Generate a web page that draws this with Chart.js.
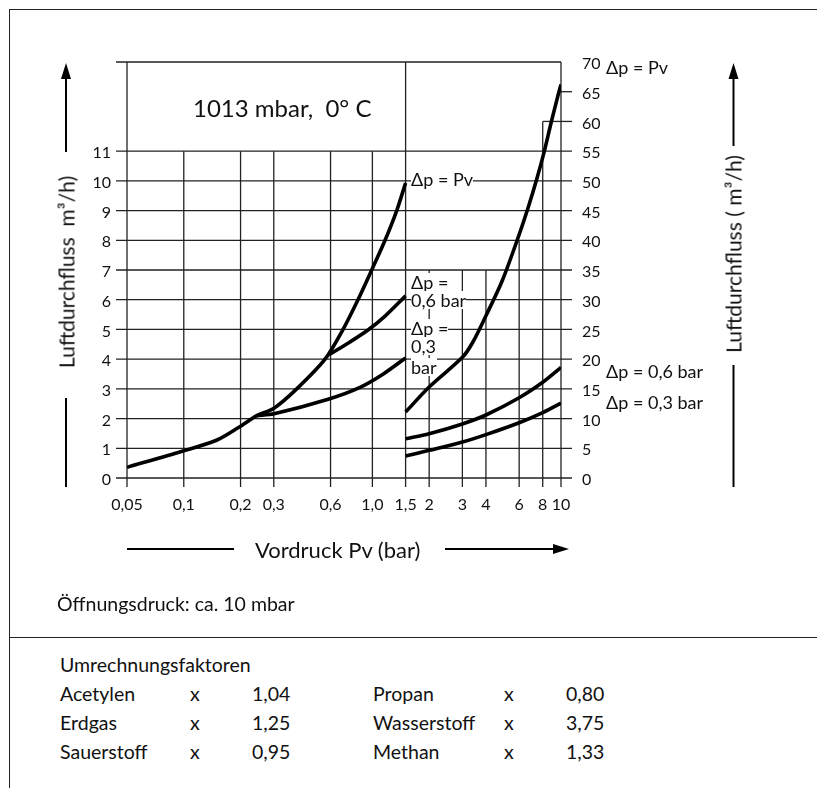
<!DOCTYPE html>
<html lang="de">
<head>
<meta charset="UTF-8">
<title>Luftdurchfluss</title>
<script src="https://cdn.jsdelivr.net/npm/chart.js"></script>
<style>
body { margin: 0; background: #fff; font-family: 'Lato', sans-serif; color: #111; }
#page { position: relative; width: 817px; height: 788px; overflow: hidden; }
#chartBox { position: absolute; left: 0; top: 0; width: 817px; height: 600px; }
.hline { position: absolute; border-top: 1.5px solid #222; }
.vline { position: absolute; border-left: 1.5px solid #222; }
.t { position: absolute; white-space: nowrap; transform: translateY(-50%); font-size: 19.5px; }
.lbl { position: absolute; white-space: nowrap; font-size: 18px; line-height: 18px; background: #fff; transform: translateY(-50%); }
.rot { position: absolute; white-space: nowrap; font-size: 21px; transform: translate(-50%, -50%) rotate(-90deg); }
</style>
</head>
<body>
<div id="page">
  <div class="hline" style="left:9px; top:9px; width:808px;"></div>
  <div class="vline" style="left:9px; top:9px; height:779px;"></div>
  <div class="hline" style="left:9px; top:637px; width:808px;"></div>

  <div id="chartBox"><canvas id="flowChart"></canvas></div>

  <div class="t" style="left:193px; top:107px; font-size:24px;">1013 mbar,&nbsp; 0° C</div>

  <div class="lbl" style="left:411px; top:179px;">Δp = Pv</div>
  <div class="lbl" style="left:411px; top:282px;">Δp =</div>
  <div class="lbl" style="left:411px; top:300px;">0,6 bar</div>
  <div class="lbl" style="left:411px; top:328px;">Δp =</div>
  <div class="lbl" style="left:411px; top:346px;">0,3</div>
  <div class="lbl" style="left:411px; top:367px;">bar</div>

  <div class="lbl" style="left:606px; top:67px;">Δp = Pv</div>
  <div class="lbl" style="left:606px; top:371px;">Δp = 0,6 bar</div>
  <div class="lbl" style="left:606px; top:402px;">Δp = 0,3 bar</div>

  <div class="rot" style="left:66px; top:272px;">Luftdurchfluss&nbsp; m³/h)</div>
  <div class="rot" style="left:733px; top:254px;">Luftdurchfluss ( m³/h)</div>

  <div class="t" style="left:255px; top:549px; font-size:22px;">Vordruck Pv (bar)</div>
  <div class="t" style="left:57px; top:603px;">Öffnungsdruck: ca. 10 mbar</div>

  <div class="t" style="left:60px; top:664px;">Umrechnungsfaktoren</div>
  <div class="t" style="left:60px; top:693px;">Acetylen</div>
  <div class="t" style="left:190px; top:693px;">x</div>
  <div class="t" style="left:252px; top:693px;">1,04</div>
  <div class="t" style="left:373px; top:693px;">Propan</div>
  <div class="t" style="left:504px; top:693px;">x</div>
  <div class="t" style="left:566px; top:693px;">0,80</div>
  <div class="t" style="left:60px; top:722px;">Erdgas</div>
  <div class="t" style="left:190px; top:722px;">x</div>
  <div class="t" style="left:252px; top:722px;">1,25</div>
  <div class="t" style="left:373px; top:722px;">Wasserstoff</div>
  <div class="t" style="left:504px; top:722px;">x</div>
  <div class="t" style="left:566px; top:722px;">3,75</div>
  <div class="t" style="left:60px; top:751px;">Sauerstoff</div>
  <div class="t" style="left:190px; top:751px;">x</div>
  <div class="t" style="left:252px; top:751px;">0,95</div>
  <div class="t" style="left:373px; top:751px;">Methan</div>
  <div class="t" style="left:504px; top:751px;">x</div>
  <div class="t" style="left:566px; top:751px;">1,33</div>
</div>

<script>
// x axis: Vordruck Pv (bar), logarithmic
const xTickValues = [0.05, 0.1, 0.2, 0.3, 0.6, 1.0, 1.5, 2, 3, 4, 6, 8, 10];
const xTickLabels = ['0,05', '0,1', '0,2', '0,3', '0,6', '1,0', '1,5', '2', '3', '4', '6', '8', '10'];
// left axis (up to 1,5 bar) and right axis (from 1,5 bar), m3/h
const leftTicks = [0, 1, 2, 3, 4, 5, 6, 7, 8, 9, 10, 11];
const rightTicks = [0, 5, 10, 15, 20, 25, 30, 35, 40, 45, 50, 55, 60, 65, 70];

// low range (left axis)
const pvLowX = [0.05, 0.098, 0.149, 0.196, 0.244, 0.301, 0.397, 0.561, 0.699, 0.839, 0.992, 1.167, 1.346, 1.5];
const pvLowY = [0.36, 0.9, 1.27, 1.71, 2.1, 2.35, 3.0, 4.0, 5.0, 6.0, 7.0, 8.0, 9.0, 9.93];
const p06LowX = [0.589, 0.761, 0.948, 1.167, 1.5];
const p06LowY = [4.15, 4.58, 4.98, 5.45, 6.13];
const p03LowX = [0.244, 0.301, 0.589, 0.86, 1.143, 1.5];
const p03LowY = [2.1, 2.16, 2.66, 3.05, 3.5, 4.04];

// high range (right axis)
const pvHighX = [1.5, 2, 3, 3.4, 4, 4.88, 5.84, 6.68, 7.44, 8.16, 8.85, 9.61, 10];
const pvHighY = [11.1, 15.3, 20.3, 22.8, 27.3, 33.2, 39.9, 45.4, 50.3, 55, 59.7, 64.2, 66.2];
const p06HighX = [1.5, 2, 3, 4, 6, 8, 10];
const p06HighY = [6.6, 7.45, 9.1, 10.6, 13.5, 16.1, 18.6];
const p03HighX = [1.5, 2, 3, 4, 6, 8, 10];
const p03HighY = [3.7, 4.65, 6.05, 7.3, 9.3, 11.0, 12.6];

const pts = (xs, ys) => xs.map((x, i) => ({ x: x, y: ys[i] }));

function curve(xs, ys, axis) {
  return {
    data: pts(xs, ys),
    yAxisID: axis,
    borderColor: '#000',
    borderWidth: 3.6,
    pointRadius: 0,
    fill: false,
    tension: 0.3
  };
}

// grid segments of the right panel: [x value, highest right-axis value]
const rightVerticals = [[2, 35], [3, 35], [4, 35], [6, 40], [8, 60]];
// horizontal lines of the right panel: [right-axis value, x value where the line starts]
const rightHorizontals = [[0, 1.5], [5, 1.5], [10, 1.5], [15, 1.5], [20, 1.5], [25, 1.5], [30, 1.5],
  [35, 1.5], [40, 1.5], [45, 1.5], [50, 1.5], [55, 1.5], [60, 8], [65, 10]];

const gridPlugin = {
  id: 'grid',
  beforeDatasetsDraw(chart) {
    const { ctx, chartArea } = chart;
    const { x, yL, yR } = chart.scales;
    const line = (x1, y1, x2, y2) => { ctx.beginPath(); ctx.moveTo(x1, y1); ctx.lineTo(x2, y2); ctx.stroke(); };
    const bottom = yL.getPixelForValue(0) + 9;
    const top = chartArea.top;
    const split = x.getPixelForValue(1.5);
    ctx.save();
    ctx.strokeStyle = '#222';
    ctx.lineWidth = 1.3;
    // left panel
    leftTicks.forEach(v => line(chartArea.left - 11, yL.getPixelForValue(v), split, yL.getPixelForValue(v)));
    line(chartArea.left - 11, top, chartArea.right, top);
    [0.1, 0.2, 0.3, 0.6, 1.0].forEach(v => line(x.getPixelForValue(v), bottom, x.getPixelForValue(v), yL.getPixelForValue(11)));
    line(chartArea.left, bottom, chartArea.left, top);
    line(split, bottom, split, top);
    // right panel
    line(chartArea.right, bottom, chartArea.right, top);
    rightVerticals.forEach(([v, up]) => line(x.getPixelForValue(v), bottom, x.getPixelForValue(v), yR.getPixelForValue(up)));
    rightHorizontals.forEach(([v, from]) => line(x.getPixelForValue(from), yR.getPixelForValue(v), chartArea.right + 11, yR.getPixelForValue(v)));
    ctx.restore();
  }
};

const decorPlugin = {
  id: 'decor',
  afterDraw(chart) {
    const ctx = chart.ctx;
    const line = (x1, y1, x2, y2) => { ctx.beginPath(); ctx.moveTo(x1, y1); ctx.lineTo(x2, y2); ctx.stroke(); };
    const head = (p) => { ctx.beginPath(); ctx.moveTo(p[0], p[1]); ctx.lineTo(p[2], p[3]); ctx.lineTo(p[4], p[5]); ctx.closePath(); ctx.fill(); };
    ctx.save();
    ctx.strokeStyle = '#000';
    ctx.fillStyle = '#000';
    ctx.lineWidth = 2;
    // left axis arrow
    line(66, 76, 66, 152);
    head([66, 63, 61, 79, 71, 79]);
    line(66, 398, 66, 487);
    // right axis arrow
    line(733.5, 76, 733.5, 146);
    head([733.5, 63, 728.5, 79, 738.5, 79]);
    line(733.5, 365, 733.5, 487);
    // bottom arrow
    line(127, 549, 234, 549);
    line(445, 549, 556, 549);
    head([569, 549, 553, 544, 553, 554]);
    ctx.restore();
  }
};

const tickFont = { family: 'Lato', size: 16 };

new Chart(document.getElementById('flowChart'), {
  type: 'line',
  data: {
    datasets: [
      curve(pvLowX, pvLowY, 'yL'),
      curve(p06LowX, p06LowY, 'yL'),
      curve(p03LowX, p03LowY, 'yL'),
      curve(pvHighX, pvHighY, 'yR'),
      curve(p06HighX, p06HighY, 'yR'),
      curve(p03HighX, p03HighY, 'yR')
    ]
  },
  options: {
    responsive: true,
    maintainAspectRatio: false,
    animation: false,
    layout: { padding: { top: 62, left: 0, right: 0, bottom: 0 } },
    plugins: { legend: { display: false }, tooltip: { enabled: false } },
    scales: {
      x: {
        type: 'logarithmic',
        min: 0.05,
        max: 10,
        grid: { display: false, drawTicks: false },
        border: { display: false },
        afterBuildTicks: s => { s.ticks = xTickValues.map(v => ({ value: v })); },
        afterFit: s => { s.height = 122; },
        ticks: {
          autoSkip: false, maxRotation: 0, padding: 17, color: '#111', font: tickFont,
          callback: (v, i) => xTickLabels[i]
        }
      },
      yL: {
        position: 'left',
        min: 0,
        max: 14,
        grid: { display: false, drawTicks: false },
        border: { display: false },
        afterBuildTicks: s => { s.ticks = leftTicks.map(v => ({ value: v })); },
        afterFit: s => { s.width = 127; },
        ticks: { padding: 16, labelOffset: 2, color: '#111', font: tickFont, callback: v => String(v) }
      },
      yR: {
        position: 'right',
        min: 0,
        max: 70,
        grid: { display: false, drawTicks: false },
        border: { display: false },
        afterBuildTicks: s => { s.ticks = rightTicks.map(v => ({ value: v })); },
        afterFit: s => { s.width = 256; },
        ticks: { padding: 21, labelOffset: 2, color: '#111', font: tickFont, callback: v => String(v) }
      }
    }
  },
  plugins: [gridPlugin, decorPlugin]
});
</script>
</body>
</html>
